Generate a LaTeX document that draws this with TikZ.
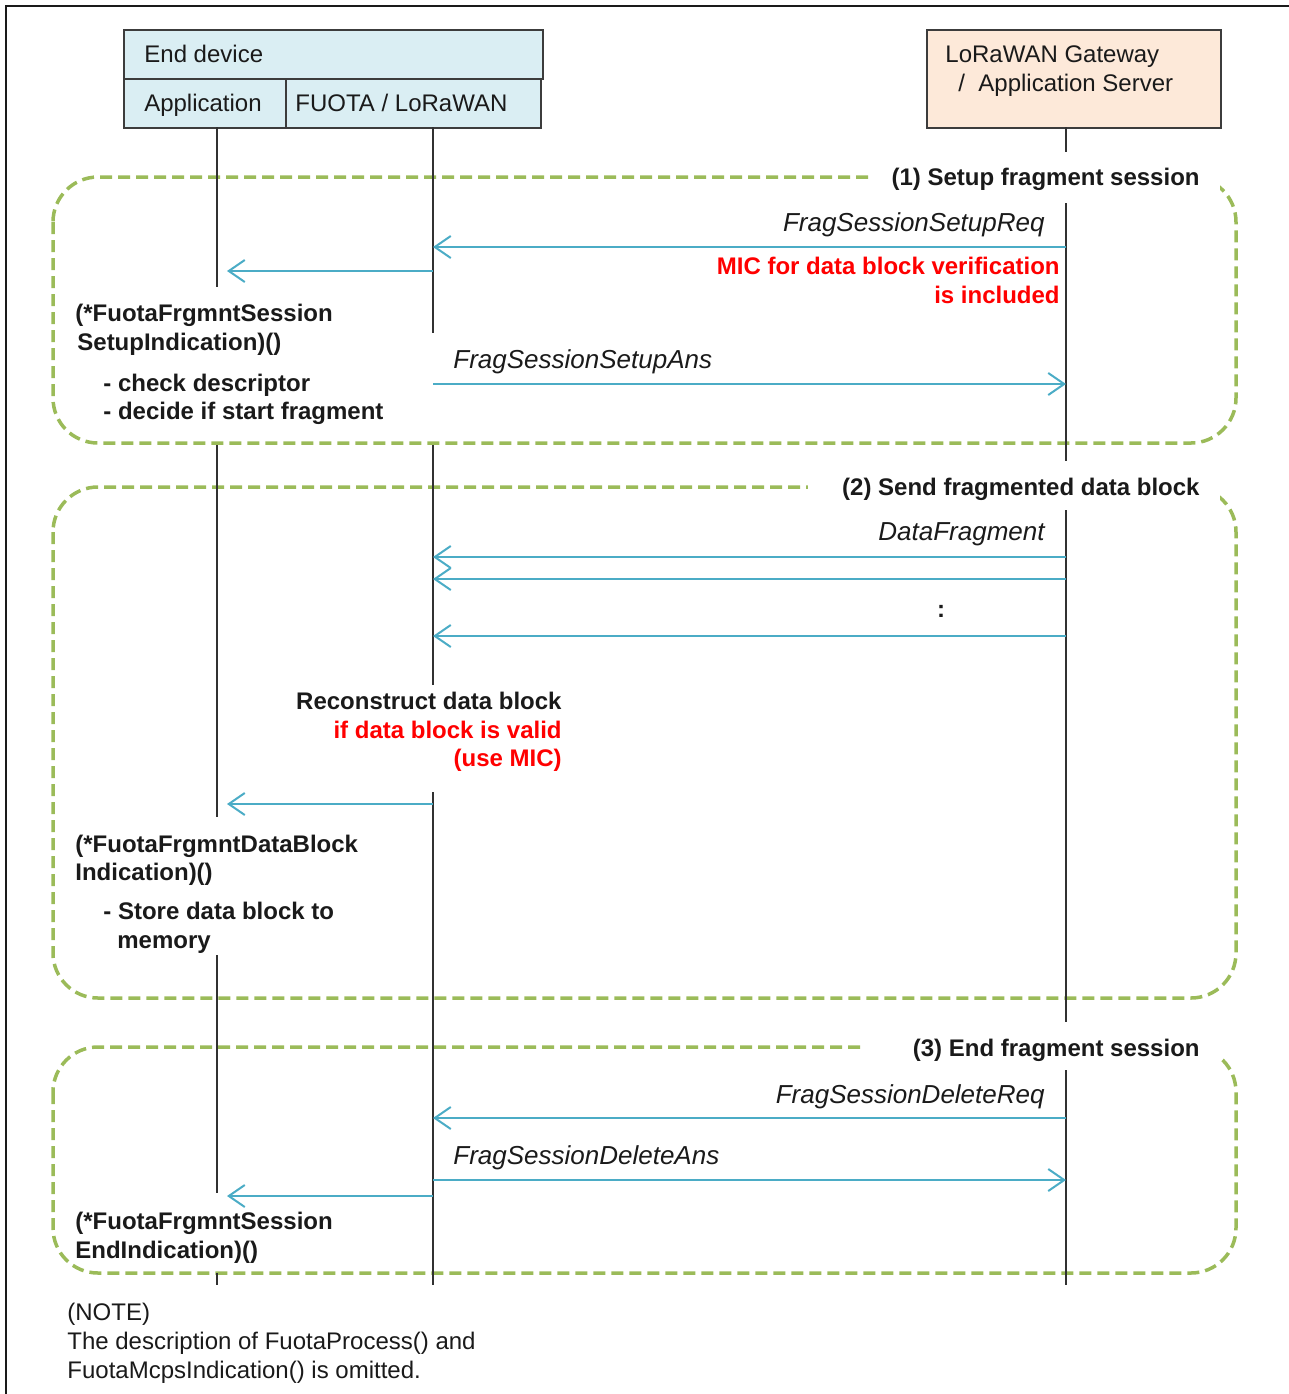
\documentclass[tikz,border=0pt]{standalone}
\usepackage{fontspec}
\setmainfont{Liberation Sans}
\usetikzlibrary{arrows.meta}
\definecolor{devfill}{HTML}{DAEEF3}
\definecolor{srvfill}{HTML}{FDE9D9}
\definecolor{grpgreen}{HTML}{9BBB59}
\definecolor{msgblue}{HTML}{4BACC6}
\definecolor{ink}{HTML}{1A1A1A}
\definecolor{alert}{HTML}{FF0000}
\newcommand\dgfont{\fontsize{12}{14.4}\selectfont}
\newcommand\msgfont{\fontsize{13}{15.6}\selectfont\itshape}

\begin{document}
\begin{tikzpicture}[x=0.5pt,y=-0.5pt,
  hdrbox/.style={draw=ink!85, line width=1pt, inner sep=0pt},
  lifeline/.style={draw=ink!90, line width=1pt},
  msg/.style={draw=msgblue, line width=1pt, -{Straight Barb[length=8pt,width=11pt,line width=1pt]}},
  tocall/.style={msg, shorten >=5pt},
  group/.style={draw=grpgreen, line width=1.75pt, dash pattern=on 6pt off 3pt, rounded corners=22.5pt},
  grouplabel/.style={fill=white, text=ink, font=\dgfont\bfseries, inner xsep=10pt, inner ysep=6pt,
    text height=9pt, text depth=3pt, anchor=base east},
  plain/.style={inner sep=0pt, text=ink, font=\dgfont},
  strong/.style={inner sep=0pt, text=ink, font=\dgfont\bfseries},
  warn/.style={strong, text=alert},
  msglabel/.style={inner sep=0pt, text=ink, font=\msgfont},
]
\useasboundingbox (0,0) rectangle (1289,1394);
\clip (0,0) rectangle (1289,1394);

% outer frame
\draw[ink, line width=1pt] (6,6) rectangle (1300,1400);

% participants
\node[hdrbox, fill=devfill, anchor=north west, minimum width=209.5pt, minimum height=24.5pt] (dev) at (123,29) {};
\node[hdrbox, fill=devfill, anchor=north west, minimum width=81pt, minimum height=24.5pt] (appbox) at (123,78) {};
\node[hdrbox, fill=devfill, anchor=north west, minimum width=127.5pt, minimum height=24.5pt] (fuobox) at (285,78) {};
\node[hdrbox, fill=srvfill, anchor=north west, minimum width=147pt, minimum height=49pt] (srvbox) at (926,29) {};
\node[plain, anchor=base west] (devtxt) at (144,62) {End device};
\node[plain, anchor=base] (apptxt) at (203,111) {Application};
\node[plain, anchor=base west] (fuotxt) at (295,111) {FUOTA / LoRaWAN};
\node[plain, anchor=base west] (srvtxta) at (945,62) {LoRaWAN Gateway};
\node[plain, anchor=base west] (srvtxtb) at (958,91) {/\ \ Application Server};

% lifeline positions
\coordinate (app) at (217,127);
\coordinate (fuo) at (433,127);
\coordinate (srv) at (1066,127);

% interaction frames
\draw[group] (53,177) rectangle (1236,443);
\draw[group] (53,487) rectangle (1236,998);
\draw[group] (53,1047) rectangle (1236,1273);
\node[grouplabel] (g1) at (1220,185) {(1) Setup fragment session};
\node[grouplabel] (g2) at (1220,495) {\hspace*{7pt}(2) Send fragmented data block};
\node[grouplabel] (g3) at (1220,1056) {\hspace*{14pt}(3) End fragment session};

% lifelines, broken where notes sit on them
\draw[lifeline] (app) -- (app |- 0,287);
\draw[lifeline] (app |- 0,445) -- (app |- 0,817);
\draw[lifeline] (app |- 0,955) -- (app |- 0,1193);
\draw[lifeline] (app |- 0,1273) -- (app |- 0,1285);
\draw[lifeline] (fuo) -- (fuo |- 0,333);
\draw[lifeline] (fuo |- 0,445) -- (fuo |- 0,685);
\draw[lifeline] (fuo |- 0,792) -- (fuo |- 0,1285);
\draw[lifeline] (srv) -- (srv |- 0,152);
\draw[lifeline] (srv |- 0,203) -- (srv |- 0,461);
\draw[lifeline] (srv |- 0,510) -- (srv |- 0,1022);
\draw[lifeline] (srv |- 0,1070) -- (srv |- 0,1285);

% (1) setup
\draw[msg] (srv |- 0,247) -- (fuo |- 0,247);
\node[msglabel, anchor=base east] (m1) at (1045,231) {FragSessionSetupReq};
\node[warn, anchor=base east] (m1na) at (1060,274) {MIC for data block verification};
\node[warn, anchor=base east] (m1nb) at (1060,303) {is included};
\draw[tocall] (fuo |- 0,271) -- (app |- 0,271);
\node[strong, anchor=base west] (c1a) at (75,321) {(*FuotaFrgmntSession};
\node[strong, anchor=base west] (c1b) at (77,350) {SetupIndication)()};
\node[strong, anchor=base west] (c1c) at (103,391) {- check descriptor};
\node[strong, anchor=base west] (c1d) at (103,419) {- decide if start fragment};
\draw[msg] (fuo |- 0,384) -- (srv |- 0,384);
\node[msglabel, anchor=base west] (m2) at (453,368) {FragSessionSetupAns};

% (2) fragments
\draw[msg] (srv |- 0,557) -- (fuo |- 0,557);
\draw[msg] (srv |- 0,579) -- (fuo |- 0,579);
\draw[msg] (srv |- 0,636) -- (fuo |- 0,636);
\node[msglabel, anchor=base east] (m3) at (1045,540) {DataFragment};
\node[strong, anchor=base] (more) at (941,617) {:};
\node[strong, anchor=base east] (r1) at (562,709) {Reconstruct data block};
\node[warn, anchor=base east] (r2) at (562,738) {if data block is valid};
\node[warn, anchor=base east] (r3) at (562,766) {(use MIC)};
\draw[tocall] (fuo |- 0,804) -- (app |- 0,804);
\node[strong, anchor=base west] (c2a) at (75,852) {(*FuotaFrgmntDataBlock};
\node[strong, anchor=base west] (c2b) at (75,880) {Indication)()};
\node[strong, anchor=base west] (c2c) at (103,919) {- Store data block to};
\node[strong, anchor=base west] (c2d) at (117,948) {memory};

% (3) end
\draw[msg] (srv |- 0,1118) -- (fuo |- 0,1118);
\node[msglabel, anchor=base east] (m4) at (1045,1103) {FragSessionDeleteReq};
\draw[msg] (fuo |- 0,1180) -- (srv |- 0,1180);
\node[msglabel, anchor=base west] (m5) at (453,1164) {FragSessionDeleteAns};
\draw[tocall] (fuo |- 0,1196) -- (app |- 0,1196);
\node[strong, anchor=base west] (c3a) at (75,1229) {(*FuotaFrgmntSession};
\node[strong, anchor=base west] (c3b) at (75,1258) {EndIndication)()};

% note
\node[plain, anchor=base west] (n1) at (67,1320) {(NOTE)};
\node[plain, anchor=base west] (n2) at (67,1349) {The description of FuotaProcess() and};
\node[plain, anchor=base west] (n3) at (67,1378) {FuotaMcpsIndication() is omitted.};
\end{tikzpicture}
\end{document}
